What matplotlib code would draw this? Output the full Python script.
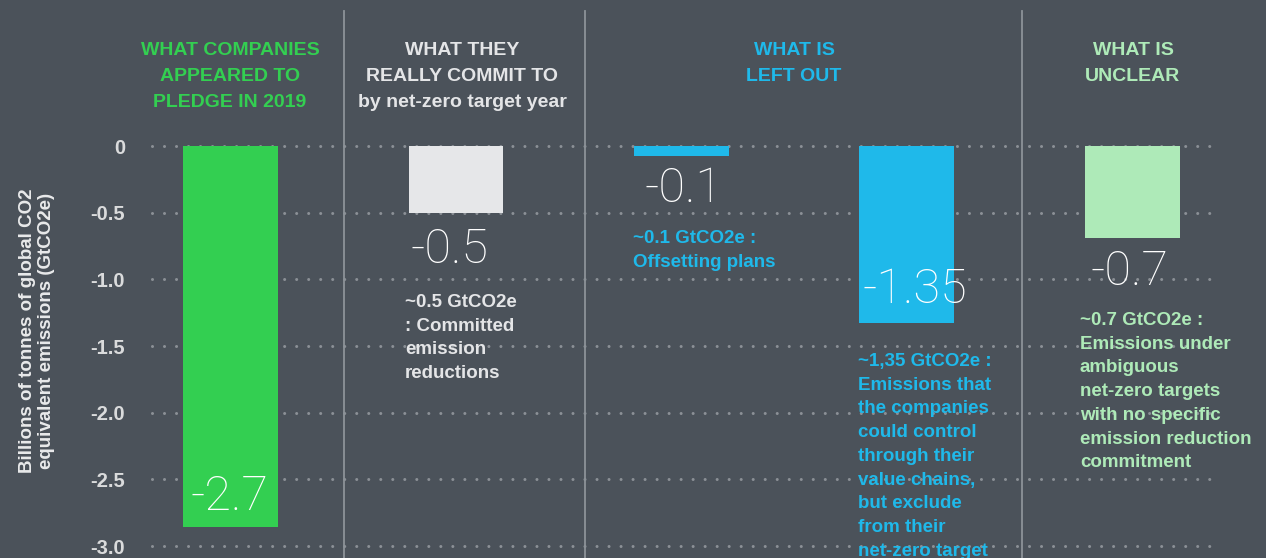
import matplotlib
matplotlib.use("Agg")
import matplotlib.pyplot as plt
from matplotlib.lines import Line2D

# ---------------- data ----------------
categories = ["Pledged 2019", "Committed", "Offsetting", "Value chains", "Unclear"]
values = [-2.86, -0.505, -0.073, -1.33, -0.69]
value_labels = ["-2.7", "-0.5", "-0.1", "-1.35", "-0.7"]
yticks = [0, -0.5, -1.0, -1.5, -2.0, -2.5, -3.0]
ytick_labels = ["0", "-0.5", "-1.0", "-1.5", "-2.0", "-2.5", "-3.0"]

headers = [
    ["WHAT COMPANIES", "APPEARED TO", "PLEDGE IN 2019"],
    ["WHAT THEY", "REALLY COMMIT TO", "by net-zero target year"],
    ["WHAT IS", "LEFT OUT"],
    ["WHAT IS", "UNCLEAR"],
]
notes = [
    ["~0.5 GtCO2e", ": Committed", "emission", "reductions"],
    ["~0.1 GtCO2e :", "Offsetting plans"],
    ["~1,35 GtCO2e :", "Emissions that", "the companies", "could control",
     "through their", "value chains,", "but exclude", "from their", "net-zero target"],
    ["~0.7 GtCO2e :", "Emissions under", "ambiguous", "net-zero targets",
     "with no specific", "emission reduction", "commitment"],
]
ylabel_lines = ["Billions of tonnes of global CO2", "equivalent emissions (GtCO2e)"]

# ---------------- style ----------------
BG = "#4b525a"
GREEN = "#33cf51"
GREY_BAR = "#e6e7e9"
BLUE = "#1fb9ea"
LGREEN = "#aeeab8"
TXT = "#e4e5e7"
bar_colors = [GREEN, GREY_BAR, BLUE, BLUE, LGREEN]

W, H = 1266, 558
plt.rcParams["lines.scale_dashes"] = False
BOLD = ["Liberation Sans", "DejaVu Sans"]
THIN = ["Roboto", "DejaVu Sans"]

fig = plt.figure(figsize=(W / 100, H / 100), dpi=100, facecolor=BG)

def fx(px):
    return px / W

def fy(py):
    return 1 - py / H

ax = fig.add_axes([fx(150), fy(546), (1210 - 150) / W, 400 / H])
ax.set_facecolor("none")
ax.set_xlim(-0.357, 4.344)
ax.set_ylim(-3.0, 0.0)
for s in ax.spines.values():
    s.set_visible(False)

x = list(range(len(categories)))
ax.bar(x, values, width=0.421, color=bar_colors, zorder=3)

# dotted gridlines
for t in yticks:
    ln = Line2D([0.0015, 1.0], [t, t], transform=ax.get_yaxis_transform(),
                color="#8b9096", linewidth=2.2, linestyle=(0, (0.01, 12 * 0.72)),
                dash_capstyle="round", clip_on=False, zorder=1)
    ax.add_line(ln)

ax.set_xticks([])
ax.set_yticks(yticks)
ax.set_yticklabels(ytick_labels, fontfamily=BOLD, fontweight="bold",
                   fontsize=14.5, color="#dadbdc")
ax.tick_params(axis="y", length=0, pad=18)

# separators
for sx in [344, 585, 1022]:
    fig.add_artist(Line2D([fx(sx), fx(sx)], [fy(11), 0], transform=fig.transFigure,
                          color="#8d9399", linewidth=1.3))

# y label
for i, (line, px) in enumerate(zip(ylabel_lines, [28, 47])):
    fig.text(fx(px), fy(331), line, rotation=90, ha="center", va="center",
             fontfamily=BOLD, fontweight="bold", fontsize=13.5, color="#e9eaeb")

# headers
header_cx = [230, 462, 794, 1133]
header_colors = [GREEN, TXT, BLUE, LGREEN]
for lines, cx, col in zip(headers, header_cx, header_colors):
    for j, line in enumerate(lines):
        fig.text(fx(cx), fy(55 + 26 * j), line, ha="center", va="baseline",
                 fontfamily=BOLD, fontweight="bold", fontsize=14, color=col)

# value labels (thin)
val_pos = [(190, 510), (411, 263), (645, 202), (863, 303), (1090, 285)]
for lab, (px, py) in zip(value_labels, val_pos):
    fig.text(fx(px), fy(py), lab, ha="left", va="baseline",
             fontfamily=THIN, fontweight=100, fontsize=35, color="white")

# notes
note_pos = [(405, 307), (633, 243), (858, 366), (1080, 325)]
note_colors = [TXT, BLUE, BLUE, LGREEN]
for lines, (px, py), col in zip(notes, note_pos, note_colors):
    for j, line in enumerate(lines):
        fig.text(fx(px), fy(py + 23.7 * j), line, ha="left", va="baseline",
                 fontfamily=BOLD, fontweight="bold", fontsize=13.5, color=col)

fig.savefig("out.png", dpi=100, facecolor=BG)
